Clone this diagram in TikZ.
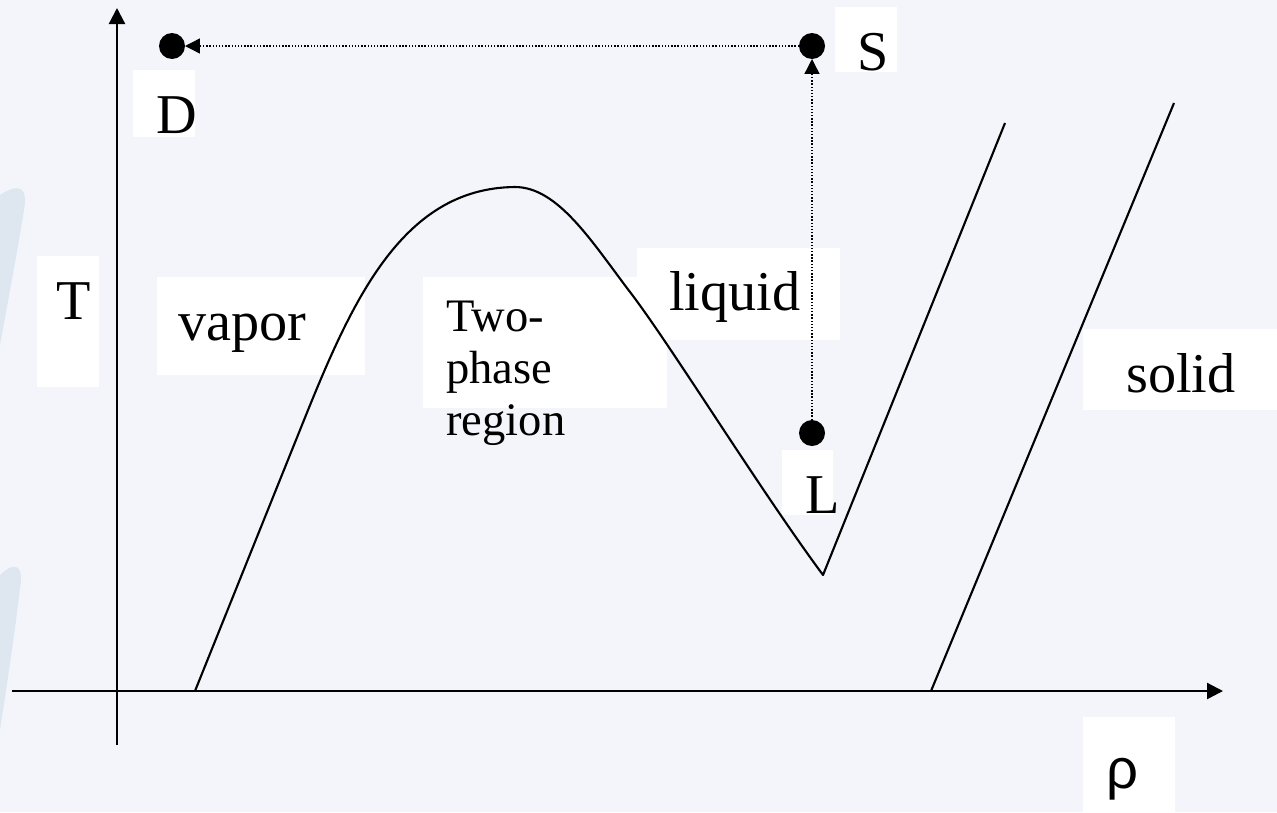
\documentclass[tikz,border=0pt]{standalone}
\usepackage{fontspec}
\setmainfont{Liberation Serif}
\newfontfamily\rhofont{Liberation Sans}
\usepackage{tikz}
\usetikzlibrary{positioning, arrows.meta}
\definecolor{slideBg}{HTML}{F3F5FA}
\definecolor{swooshBlue}{HTML}{B9CCE0}

\begin{document}
\begin{tikzpicture}[x=0.02cm, y=-0.02cm,
      axis/.style={line width=1.3pt, -{Triangle[length=0.32cm, width=0.32cm]}},
      curve/.style={line width=1.2pt, line join=round},
      dot/.style={circle, fill=black, minimum size=0.52cm, inner sep=0pt, outer sep=0pt},
      dotline/.style={line width=0.8pt, dash pattern=on 0.8pt off 1pt, -{Triangle[length=0.3cm, width=0.3cm]}},
      whitebox/.style={fill=white},
      lbl/.style={inner sep=0pt, font=\fontsize{32}{38}\selectfont},
      small/.style={inner sep=0pt, align=left, font=\fontsize{26.5}{29.6}\selectfont}
    ]
      \useasboundingbox (0,0) rectangle (1277,812);
      \fill[slideBg] (0,0) rectangle (1277,812);
      \fill[swooshBlue, opacity=0.35] (0,195) .. controls (20,182) and (28,188) .. (24,210) .. controls (16,260) and (8,300) .. (0,345) -- cycle;
      \fill[swooshBlue, opacity=0.35] (0,575) .. controls (16,560) and (24,566) .. (20,588) .. controls (14,640) and (6,690) .. (0,730) -- cycle;

      % white label boxes
      \fill[whitebox] (37,256) rectangle (99,387);
      \fill[whitebox] (157,277) rectangle (365,375);
      \fill[whitebox] (423,277) rectangle (667,408);
      \fill[whitebox] (637,248) rectangle (840,340);
      \fill[whitebox] (1083,329) rectangle (1277,410);
      \fill[whitebox] (835,7) rectangle (897,72);
      \fill[whitebox] (133,70) rectangle (195,137);
      \fill[whitebox] (782,450) rectangle (833,515);
      \fill[whitebox] (1083,717) rectangle (1175,812);

      % labels
      \node[lbl, anchor=base west] (Tlbl) at (56,319) {T};
      \node[lbl, anchor=base west] (vapor) at (178,340) {vapor};
      \node[small, anchor=north west] (twophase) at (446,301) {Two-\\phase\\region};
      \node[lbl, anchor=base west] (liquid) at (669,310) {liquid};
      \node[lbl, anchor=base west] (solid) at (1126,392) {solid};
      \node[lbl, anchor=base west] (Slbl) at (857,70) {S};
      \node[lbl, anchor=base west] (Dlbl) at (156,133) {D};
      \node[lbl, anchor=base west] (Llbl) at (805,513) {L};
      \node[lbl, anchor=base, font=\rhofont\fontsize{32}{38}\selectfont] (rho) at (1122,788) {ρ};

      % axes
      \coordinate (ybot) at (117,745);
      \coordinate (ytop) at (117,8);
      \coordinate (xleft) at (12,691);
      \coordinate (xright) at (1223,691);
      \draw[axis] (ybot) -- (ytop);
      \draw[axis] (xleft) -- (xright);

      % phase boundaries
      \draw[curve] (195,691) -- (300,430)
        .. controls (350,305) and (400,188) .. (515,187)
        .. controls (558,187) and (592,242) .. (630,292)
        .. controls (670,344) and (760,490) .. (823,575)
        -- (1005,123);
      \draw[curve] (931,691) -- (1174,103);

      % states
      \node[dot] (D) at (172,46) {};
      \node[dot] (S) at (812,46) {};
      \node[dot] (L) at (812,433) {};
      \draw[dotline] (S) -- (D);
      \draw[dotline] (L) -- (S);
\end{tikzpicture}
\end{document}
